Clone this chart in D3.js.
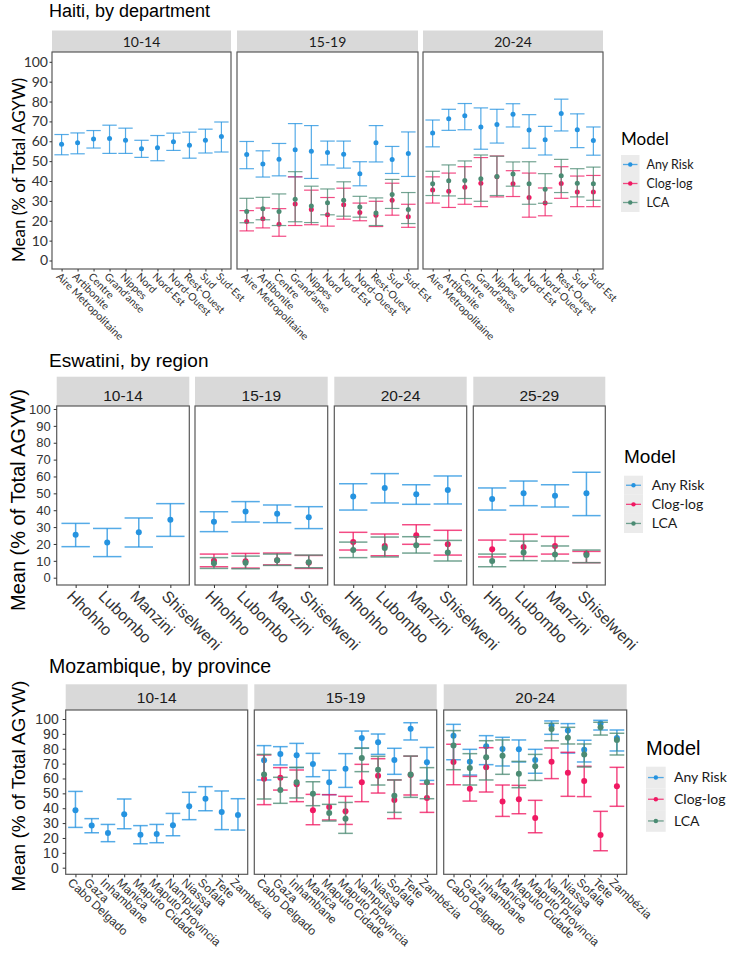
<!DOCTYPE html>
<html>
<head>
<meta charset="utf-8">
<script src="https://cdn.jsdelivr.net/npm/d3@7"></script>
<style>
  body { margin: 0; background: #fff; }
  svg { display: block; }
</style>
</head>
<body>
<div id="chart"></div>
<script>
  // ---- data: each entry is [mean, lower, upper] in % of total AGYW ----
  const models = ["Any Risk", "Clog-log", "LCA"];
  const modelColors = ["#2593E0", "#F01862", "#4B8B73"];

  const haitiDepartments = ["Aire Metropolitaine", "Artibonite", "Centre", "Grand'anse", "Nippes", "Nord",
    "Nord-Est", "Nord-Ouest", "Rest-Ouest", "Sud", "Sud-Est"];
  const haitiAges = ["10-14", "15-19", "20-24"];

  const haiti1014Any = [[58.5,53.2,63.4],[59.2,53.7,64.2],[61.2,56.6,65.4],[61.4,53.9,68.1],[60.5,53.9,66.6],
    [56.3,51.9,60.5],[56.8,50.2,62.9],[59.8,55.4,64.1],[58.0,51.5,64.6],[60.5,54.1,66.1],[62.4,54.6,69.7]];
  const haiti1519Any = [[53.3,46.2,59.9],[48.6,42.0,55.2],[50.9,42.6,58.9],[55.8,42.1,68.9],[55.0,41.3,67.9],
    [54.3,48.1,60.1],[53.5,46.5,60.1],[43.7,37.6,49.7],[59.2,49.6,67.9],[50.8,43.8,57.4],[53.8,42.3,64.7]];
  const haiti1519Clog = [[19.6,14.9,25.1],[21.0,16.4,26.4],[18.3,12.2,26.1],[28.4,17.6,42.1],[25.7,18.0,35.4],
    [23.0,17.3,31.7],[28.1,20.8,36.4],[24.1,20.0,28.9],[22.8,17.1,29.8],[30.3,22.8,38.9],[22.0,16.7,28.3]];
  const haiti1519Lca = [[24.7,19.0,31.3],[26.1,20.5,31.8],[24.7,17.6,33.5],[30.8,19.5,44.7],[27.4,19.1,37.4],
    [29.1,23.0,36.0],[30.3,22.3,39.6],[26.9,21.8,32.3],[23.9,17.6,31.5],[33.2,26.2,40.8],[25.7,18.6,34.2]];
  const haiti2024Any = [[64.2,57.2,70.7],[71.3,65.5,76.1],[72.9,65.8,79.0],[67.2,56.0,76.8],[68.4,59.1,76.1],
    [73.6,67.2,78.9],[65.7,56.5,73.4],[60.8,53.1,67.5],[74.0,65.2,81.2],[65.8,56.8,73.8],[60.4,53.0,67.2]];
  const haiti2024Clog = [[35.5,28.9,42.1],[34.9,26.7,44.0],[36.9,28.3,47.2],[38.9,27.1,51.8],[42.1,32.0,52.6],
    [38.6,32.2,45.2],[31.7,21.8,44.0],[28.9,22.5,36.5],[38.7,31.3,47.2],[34.5,27.1,42.5],[34.5,27.1,42.8]];
  const haiti2024Lca = [[38.6,32.7,44.9],[40.1,32.5,48.1],[40.3,31.2,50.1],[41.1,29.8,53.1],[42.3,32.7,52.5],
    [43.5,37.4,49.6],[38.6,28.3,49.7],[35.9,28.8,43.7],[42.6,34.2,50.9],[38.9,32.0,46.2],[38.6,30.3,47.0]];

  const eswatiniRegions = ["Hhohho", "Lubombo", "Manzini", "Shiselweni"];
  const eswatiniAges = ["10-14", "15-19", "20-24", "25-29"];

  const esw1014Any = [[25.5,18.4,32.2],[20.9,12.5,29.2],[26.9,18.2,35.4],[34.4,24.5,43.9]];
  const esw1519Any = [[33.2,27.3,39.1],[39.3,33.0,45.1],[37.9,32.6,43.1],[35.8,29.1,42.1]];
  const esw1519Clog = [[10.1,6.5,14.0],[9.7,5.7,14.4],[10.3,7.6,14.6],[8.9,5.5,13.2]];
  const esw1519Lca = [[8.5,5.5,11.9],[8.9,5.3,12.8],[10.3,7.3,14.0],[9.1,5.9,13.4]];
  const esw2024Any = [[48.2,40.1,55.7],[53.2,44.3,61.7],[49.4,43.5,55.1],[52.0,43.7,60.3]];
  const esw2024Clog = [[21.1,16.4,26.9],[18.8,13.0,25.9],[25.1,19.8,31.4],[19.8,13.4,28.1]];
  const esw2024Lca = [[16.4,11.9,21.1],[17.6,12.3,24.1],[19.2,14.6,24.3],[15.0,9.9,22.1]];
  const esw2529Any = [[46.6,40.1,53.2],[50.0,42.7,57.3],[48.6,41.9,55.1],[50.0,36.8,62.5]];
  const esw2529Clog = [[16.8,12.3,22.3],[18.2,12.6,25.7],[18.8,14.0,24.5],[14.4,8.9,15.6]];
  const esw2529Lca = [[9.9,6.5,14.0],[15.0,10.1,21.7],[13.8,9.9,18.8],[13.4,8.9,16.4]];

  const mozProvinces = ["Cabo Delgado", "Gaza", "Inhambane", "Manica", "Maputo Cidade", "Maputo Provincia",
    "Nampula", "Niassa", "Sofala", "Tete", "Zambézia"];
  const mozAges = ["10-14", "15-19", "20-24"];

  const moz1014Any = [[38.6,27.1,51.3],[28.3,23.5,33.0],[23.3,17.5,29.1],[35.9,26.2,46.2],[22.2,16.1,28.3],
    [22.6,16.8,29.1],[28.5,21.5,36.5],[41.3,32.3,50.7],[46.4,38.3,54.5],[37.4,25.6,51.6],[35.4,25.3,46.4]];
  const moz1519Any = [[72.2,59.0,82.1],[76.5,69.1,81.4],[75.6,67.3,83.6],[69.7,61.2,76.9],[57.4,49.1,65.5],
    [66.6,54.0,76.7],[87.2,80.3,91.9],[84.3,76.2,89.9],[72.4,62.8,80.3],[93.5,85.9,97.5],[70.9,58.7,80.9]];
  const moz1519Clog = [[59.9,42.4,75.8],[60.5,52.2,67.3],[56.1,44.4,65.7],[38.6,28.9,49.3],[40.8,32.1,49.1],
    [37.9,29.1,48.0],[57.4,44.4,69.5],[61.9,50.2,73.3],[45.5,33.0,59.0],[62.3,48.9,75.0],[46.9,37.2,56.3]];
  const moz1519Lca = [[62.6,46.2,76.2],[52.2,43.3,60.8],[57.4,46.9,67.5],[49.8,41.7,57.8],[36.8,31.4,42.6],
    [33.0,23.1,43.9],[73.8,64.6,80.5],[65.9,55.6,74.9],[48.4,37.2,59.0],[62.6,47.3,75.1],[57.4,46.4,67.3]];
  const moz2024Any = [[88.8,72.6,96.4],[71.3,62.3,79.6],[81.6,69.3,88.8],[79.8,68.4,87.7],[79.6,71.1,85.9],
    [72.4,63.5,79.6],[95.7,89.7,98.7],[92.2,77.1,96.9],[79.4,71.1,85.7],[96.9,92.6,99.1],[87.2,78.5,92.6]];
  const moz2024Clog = [[71.1,55.8,83.0],[53.1,44.8,61.4],[67.5,50.9,80.7],[44.6,34.5,55.6],[46.0,36.3,55.4],
    [33.4,23.5,45.3],[71.3,59.9,80.5],[63.9,48.0,77.6],[58.3,47.8,68.2],[22.0,11.4,37.9],[54.7,41.3,67.5]];
  const moz2024Lca = [[82.1,65.9,92.2],[67.0,55.6,76.7],[74.2,59.0,85.4],[75.3,62.8,85.9],[63.2,53.8,71.5],
    [68.2,58.7,76.2],[93.3,85.4,97.1],[87.4,83.2,94.4],[76.2,67.7,83.2],[94.4,89.2,97.8],[85.9,75.8,90.4]];

  const yTicks = [0, 10, 20, 30, 40, 50, 60, 70, 80, 90, 100];

  const ARIAL = "'Liberation Sans', Arial, sans-serif";
  const CALI = "Lato, 'Open Sans', sans-serif";

  const width = 732;
  const height = 956;

  const svg = d3.select("#chart").append("svg")
    .attr("width", width)
    .attr("height", height);

  function drawSection(cfg) {
    const g = svg.append("g");

    g.append("text")
      .attr("x", cfg.titleX)
      .attr("y", cfg.titleY)
      .style("font", cfg.titleSize + "px " + ARIAL)
      .attr("fill", "#000")
      .text(cfg.title);

    const y = d3.scaleLinear().domain([0, 100]).range([cfg.yZero, cfg.yHundred]);

    cfg.panels.forEach(function(p, i) {
      const x = d3.scalePoint()
        .domain(cfg.categories)
        .range([p[0], p[1]])
        .padding(0.6);
      const capW = x.step() * 0.9;

      // strip
      g.append("rect")
        .attr("x", p[0]).attr("y", cfg.stripTop)
        .attr("width", p[1] - p[0]).attr("height", cfg.panelTop - cfg.stripTop)
        .attr("fill", "#D9D9D9");
      g.append("text")
        .attr("x", (p[0] + p[1]) / 2)
        .attr("y", cfg.stripBase)
        .attr("text-anchor", "middle")
        .style("font", cfg.stripSize + "px " + cfg.stripFont)
        .attr("fill", "#1a1a1a")
        .text(cfg.ages[i]);

      // panel
      g.append("rect")
        .attr("x", p[0]).attr("y", cfg.panelTop)
        .attr("width", p[1] - p[0]).attr("height", cfg.panelBottom - cfg.panelTop)
        .attr("fill", "#fff")
        .attr("stroke", "#595959")
        .attr("stroke-width", 1.2);

      if (i === 0) {
        const ya = g.append("g")
          .attr("transform", "translate(" + p[0] + ",0)")
          .call(d3.axisLeft(y).tickValues(yTicks).tickSize(cfg.tickLen).tickPadding(cfg.yPad));
        ya.select(".domain").remove();
        ya.selectAll("line").attr("stroke", "#333");
        ya.selectAll("text")
          .attr("fill", "#333")
          .style("font", cfg.yTickSize + "px " + cfg.yTickFont);
      }

      const xa = g.append("g")
        .attr("transform", "translate(0," + cfg.panelBottom + ")")
        .call(d3.axisBottom(x).tickSize(cfg.tickLen));
      xa.select(".domain").remove();
      xa.selectAll("line").attr("stroke", "#333");
      xa.selectAll("text")
        .attr("x", 0).attr("y", 0)
        .attr("dy", "0.72em")
        .attr("transform", "translate(" + cfg.xlabDx + "," + cfg.xlabDy + ") rotate(" + cfg.xlabAngle + ")")
        .style("text-anchor", "start")
        .style("font", cfg.xTickSize + "px " + cfg.xTickFont)
        .attr("fill", "#333");

      // error bars, drawn model by model
      cfg.series[i].forEach(function(s) {
        const color = modelColors[s.model];
        const rows = s.values.map(function(v, k) {
          return { cat: cfg.categories[k], mean: v[0], lo: v[1], hi: v[2] };
        });
        const eb = g.append("g");
        const bars = eb.selectAll("g").data(rows).enter().append("g")
          .attr("stroke", color)
          .attr("stroke-opacity", 0.78)
          .attr("stroke-width", cfg.lineW);
        bars.append("line")
          .attr("x1", d => x(d.cat)).attr("x2", d => x(d.cat))
          .attr("y1", d => y(d.lo)).attr("y2", d => y(d.hi));
        bars.append("line")
          .attr("x1", d => x(d.cat) - capW / 2).attr("x2", d => x(d.cat) + capW / 2)
          .attr("y1", d => y(d.hi)).attr("y2", d => y(d.hi));
        bars.append("line")
          .attr("x1", d => x(d.cat) - capW / 2).attr("x2", d => x(d.cat) + capW / 2)
          .attr("y1", d => y(d.lo)).attr("y2", d => y(d.lo));
        eb.selectAll("circle").data(rows).enter().append("circle")
          .attr("cx", d => x(d.cat))
          .attr("cy", d => y(d.mean))
          .attr("r", cfg.pointR)
          .attr("fill", color);
      });
    });

    // y axis title
    g.append("text")
      .attr("transform", "translate(" + cfg.ylabX + "," + cfg.ylabY + ") rotate(-90)")
      .attr("text-anchor", "middle")
      .attr("dy", "0.35em")
      .style("font", cfg.ylabSize + "px " + cfg.ylabFont)
      .attr("fill", "#000")
      .text("Mean (% of Total AGYW)");

    // legend
    const L = cfg.legend;
    g.append("text")
      .attr("x", L.x).attr("y", L.titleY)
      .style("font", L.titleSize + "px " + L.titleFont)
      .attr("fill", "#000")
      .text("Model");
    models.forEach(function(m, k) {
      const ky = L.keyTop + k * L.keyH;
      g.append("rect")
        .attr("x", L.x).attr("y", ky)
        .attr("width", L.keyW).attr("height", L.keyH)
        .attr("fill", "#EBEBEB");
      g.append("line")
        .attr("x1", L.x + 2).attr("x2", L.x + L.keyW - 2)
        .attr("y1", ky + L.keyH / 2).attr("y2", ky + L.keyH / 2)
        .attr("stroke", modelColors[k]).attr("stroke-opacity", 0.78)
        .attr("stroke-width", 1.3);
      g.append("circle")
        .attr("cx", L.x + L.keyW / 2).attr("cy", ky + L.keyH / 2)
        .attr("r", 2.2).attr("fill", modelColors[k]);
      g.append("text")
        .attr("x", L.textX).attr("y", ky + L.keyH / 2)
        .attr("dy", "0.35em")
        .style("font", L.textSize + "px " + CALI)
        .attr("fill", "#1a1a1a")
        .text(m);
    });
  }

  // Haiti
  drawSection({
    title: "Haiti, by department", titleX: 49, titleY: 17, titleSize: 18,
    categories: haitiDepartments, ages: haitiAges,
    panels: [[52, 231], [237, 418], [423, 603]],
    stripTop: 30.5, panelTop: 52, panelBottom: 269, stripBase: 46.5, stripSize: 14, stripFont: CALI,
    yZero: 260.5, yHundred: 61.8,
    tickLen: 2.5, yPad: 1.5, yTickSize: 14, yTickFont: CALI,
    xlabDx: -1, xlabDy: 3, xlabAngle: 45, xTickSize: 10.5, xTickFont: CALI,
    ylabX: 19, ylabY: 170, ylabSize: 17, ylabFont: CALI,
    pointR: 2.5, lineW: 1.2,
    series: [
      [{ model: 0, values: haiti1014Any }],
      [{ model: 0, values: haiti1519Any }, { model: 1, values: haiti1519Clog }, { model: 2, values: haiti1519Lca }],
      [{ model: 0, values: haiti2024Any }, { model: 1, values: haiti2024Clog }, { model: 2, values: haiti2024Lca }]
    ],
    legend: { x: 621, titleY: 144.5, titleSize: 17, titleFont: CALI, keyTop: 155, keyW: 18.5, keyH: 19, textX: 646.5, textSize: 12.5 }
  });

  // Eswatini
  drawSection({
    title: "Eswatini, by region", titleX: 49, titleY: 367.3, titleSize: 19,
    categories: eswatiniRegions, ages: eswatiniAges,
    panels: [[56.7, 189.3], [195, 327.7], [334.3, 466.7], [473.3, 605.3]],
    stripTop: 376.7, panelTop: 406, panelBottom: 585, stripBase: 401, stripSize: 15.5, stripFont: ARIAL,
    yZero: 577.7, yHundred: 409,
    tickLen: 3, yPad: 3, yTickSize: 13, yTickFont: ARIAL,
    xlabDx: -2, xlabDy: 4, xlabAngle: 45, xTickSize: 16, xTickFont: ARIAL,
    ylabX: 17.5, ylabY: 500, ylabSize: 20, ylabFont: ARIAL,
    pointR: 3, lineW: 1.5,
    series: [
      [{ model: 0, values: esw1014Any }],
      [{ model: 0, values: esw1519Any }, { model: 1, values: esw1519Clog }, { model: 2, values: esw1519Lca }],
      [{ model: 0, values: esw2024Any }, { model: 1, values: esw2024Clog }, { model: 2, values: esw2024Lca }],
      [{ model: 0, values: esw2529Any }, { model: 1, values: esw2529Clog }, { model: 2, values: esw2529Lca }]
    ],
    legend: { x: 624, titleY: 463.3, titleSize: 19, titleFont: ARIAL, keyTop: 475.7, keyW: 19, keyH: 19.1, textX: 651.7, textSize: 14 }
  });

  // Mozambique
  drawSection({
    title: "Mozambique, by province", titleX: 49, titleY: 673.3, titleSize: 19.5,
    categories: mozProvinces, ages: mozAges,
    panels: [[65.7, 247.7], [254.3, 436.7], [443.7, 626.7]],
    stripTop: 684.3, panelTop: 710, panelBottom: 874.3, stripBase: 703.3, stripSize: 15.5, stripFont: ARIAL,
    yZero: 867.7, yHundred: 719,
    tickLen: 3, yPad: 4, yTickSize: 14, yTickFont: ARIAL,
    xlabDx: -3, xlabDy: 3, xlabAngle: 43, xTickSize: 12, xTickFont: ARIAL,
    ylabX: 18.5, ylabY: 786, ylabSize: 19, ylabFont: ARIAL,
    pointR: 3, lineW: 1.5,
    series: [
      [{ model: 0, values: moz1014Any }],
      [{ model: 0, values: moz1519Any }, { model: 1, values: moz1519Clog }, { model: 2, values: moz1519Lca }],
      [{ model: 0, values: moz2024Any }, { model: 1, values: moz2024Clog }, { model: 2, values: moz2024Lca }]
    ],
    legend: { x: 646, titleY: 755, titleSize: 20, titleFont: ARIAL, keyTop: 766.7, keyW: 19.7, keyH: 21.7, textX: 674, textSize: 14 }
  });
</script>
</body>
</html>
